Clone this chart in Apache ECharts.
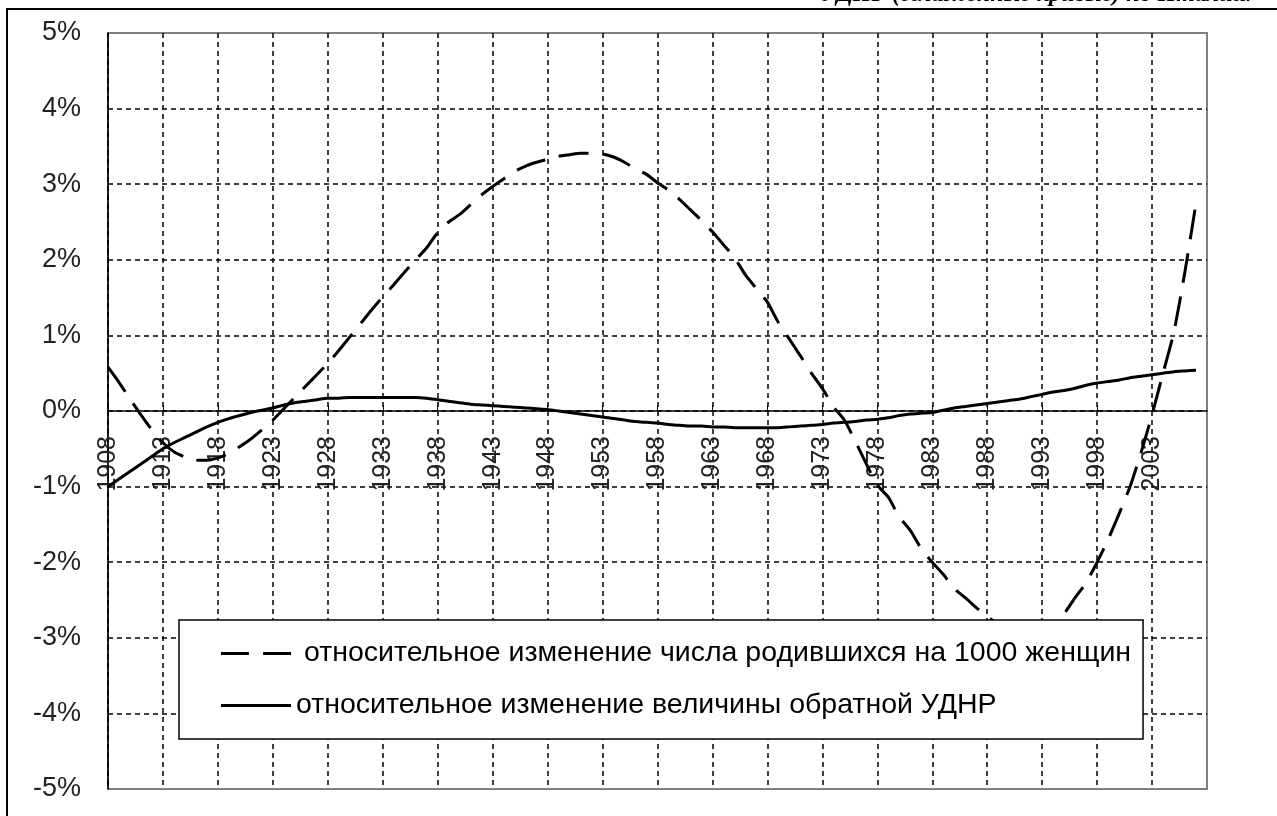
<!DOCTYPE html>
<html>
<head>
<meta charset="utf-8">
<script src="https://cdn.jsdelivr.net/npm/echarts@6/dist/echarts.min.js"></script>
<style>
html,body{margin:0;padding:0;background:#fff;}
#c{width:1277px;height:816px;}
</style>
</head>
<body>
<div id="c"></div>
<script>
// ---- data ----
const years = [];
for (let y = 1908; y <= 2008; y++) years.push(String(y));

const seriesNames = [
  'относительное изменение числа родившихся на 1000 женщин',
  'относительное изменение величины обратной УДНР'
];

// relative change of births per 1000 women, % (1908..2007)
const births = [
  0.58, 0.38, 0.16, -0.05, -0.25, -0.42, -0.54, -0.61, -0.65, -0.65,
  -0.62, -0.56, -0.47, -0.37, -0.25, -0.12, 0.03, 0.18, 0.33, 0.48,
  0.63, 0.80, 0.98, 1.16, 1.34, 1.51, 1.67, 1.84, 2.00, 2.16,
  2.36, 2.50, 2.60, 2.73, 2.86, 2.97, 3.07, 3.17, 3.24, 3.29,
  3.33, 3.37, 3.39, 3.41, 3.41, 3.40, 3.36, 3.29, 3.20, 3.13,
  3.02, 2.92, 2.80, 2.66, 2.52, 2.37, 2.20, 2.03, 1.80, 1.62,
  1.44, 1.17, 0.95, 0.73, 0.50, 0.30, 0.06, -0.12, -0.40, -0.70,
  -0.98, -1.14, -1.40, -1.58, -1.82, -2.00, -2.16, -2.35, -2.47, -2.60,
  -2.72, -2.82, -2.90, -2.95, -2.96, -2.93, -2.82, -2.68, -2.47, -2.27,
  -2.00, -1.70, -1.36, -1.00, -0.55, -0.05, 0.50, 1.05, 1.85, 2.75
];

// relative change of inverse UDNR, % (1908..2007)
const inverseUdnr = [
  -1.00, -0.90, -0.80, -0.70, -0.60, -0.50, -0.42, -0.35, -0.28, -0.21,
  -0.15, -0.10, -0.06, -0.02, 0.01, 0.04, 0.08, 0.11, 0.13, 0.15,
  0.17, 0.17, 0.18, 0.18, 0.18, 0.18, 0.18, 0.18, 0.18, 0.17,
  0.15, 0.13, 0.11, 0.09, 0.08, 0.07, 0.06, 0.05, 0.04, 0.03,
  0.02, 0.00, -0.02, -0.04, -0.06, -0.08, -0.10, -0.12, -0.14, -0.15,
  -0.16, -0.18, -0.19, -0.20, -0.20, -0.21, -0.21, -0.22, -0.22, -0.22,
  -0.22, -0.22, -0.21, -0.20, -0.19, -0.18, -0.16, -0.15, -0.14, -0.12,
  -0.11, -0.09, -0.06, -0.04, -0.03, -0.02, 0.01, 0.04, 0.06, 0.08,
  0.10, 0.12, 0.14, 0.16, 0.19, 0.22, 0.25, 0.27, 0.30, 0.34,
  0.37, 0.39, 0.41, 0.44, 0.46, 0.48, 0.50, 0.52, 0.53, 0.54
];

const titleText = 'УДНР (сглаженные кривые) по Италии.';

// ---- chart ----
const chart = echarts.init(document.getElementById('c'), null, {renderer: 'canvas'});
const every5 = (idx) => idx % 5 === 0 && idx < 100;

const GRID_TOP = 33, GRID_BOTTOM_PX = 789, Y_MIN = -5, Y_MAX = 5;
// place category axis line at value 0 (offset from the bottom edge of the grid)
const zeroOffset = -((0 - Y_MIN) / (Y_MAX - Y_MIN)) * (GRID_BOTTOM_PX - GRID_TOP);

const legendFont = {fontFamily: '"Liberation Sans", Arial, sans-serif', fontSize: 28.5, color: '#000', lineHeight: 31};

chart.setOption({
  backgroundColor: '#ffffff',
  animation: false,
  graphic: [
    {
      type: 'rect', z: 0, silent: true,
      shape: {x: 7, y: 9, width: 1400, height: 1000},
      style: {fill: 'none', stroke: '#000', lineWidth: 2}
    },
    {
      type: 'text', z: 10, silent: true,
      style: {
        text: titleText, x: 1252, y: 7,
        font: 'italic bold 24px "Liberation Serif", "DejaVu Serif", serif',
        fill: '#000',
        textAlign: 'right', align: 'right',
        textVerticalAlign: 'bottom', verticalAlign: 'bottom'
      }
    }
  ],
  grid: {
    left: 108, right: 70, top: GRID_TOP, bottom: 816 - GRID_BOTTOM_PX,
    containLabel: false, outerBoundsMode: 'none',
    show: true, borderColor: '#808080', borderWidth: 2, backgroundColor: '#fff'
  },
  legend: {
    orient: 'vertical',
    left: 179, top: 620,
    backgroundColor: '#fff',
    borderColor: '#000', borderWidth: 1.5,
    padding: [18, 12, 18, 42],
    itemWidth: 70, itemHeight: 3, itemGap: 21,
    textStyle: legendFont,
    data: [
      {name: seriesNames[0], icon: 'path://M0,0H28V3H0Z M42,0H70V3H42Z',
       textStyle: Object.assign({}, legendFont, {padding: [0, 0, 0, 8]})},
      {name: seriesNames[1], icon: 'path://M0,0H70V3H0Z'}
    ]
  },
  xAxis: {
    type: 'category',
    data: years,
    boundaryGap: false,
    position: 'bottom',
    offset: zeroOffset,
    axisLine: {onZero: false, lineStyle: {color: '#000', width: 1.5}},
    axisTick: {inside: true, length: 6, interval: every5, lineStyle: {color: '#000', width: 1}},
    axisLabel: {
      interval: every5, rotate: 90, margin: 25,
      fontFamily: '"Liberation Sans", Arial, sans-serif', fontSize: 25, color: '#222'
    },
    splitLine: {show: true, interval: every5, lineStyle: {color: '#000', width: 1.5, type: [5, 4]}}
  },
  yAxis: {
    type: 'value',
    min: Y_MIN, max: Y_MAX, interval: 1,
    axisLine: {show: true, lineStyle: {color: '#000', width: 1.5}},
    axisTick: {show: false},
    axisLabel: {
      margin: 27, formatter: (v) => v + '%',
      fontFamily: '"Liberation Sans", Arial, sans-serif', fontSize: 27, color: '#222'
    },
    splitLine: {show: true, lineStyle: {color: ['#808080','#000','#000','#000','#000','#000','#000','#000','#000','#000','#808080'], width: 1.5, type: [5, 4]}}
  },
  series: [
    {
      name: seriesNames[0], type: 'line', data: births,
      symbol: 'none', smooth: 0.2, z: 3,
      lineStyle: {color: '#000', width: 3, type: [30, 14]},
      itemStyle: {color: '#000'}
    },
    {
      name: seriesNames[1], type: 'line', data: inverseUdnr,
      symbol: 'none', smooth: 0.2, z: 2,
      lineStyle: {color: '#000', width: 3, type: 'solid'},
      itemStyle: {color: '#000'}
    }
  ]
});
</script>
</body>
</html>
